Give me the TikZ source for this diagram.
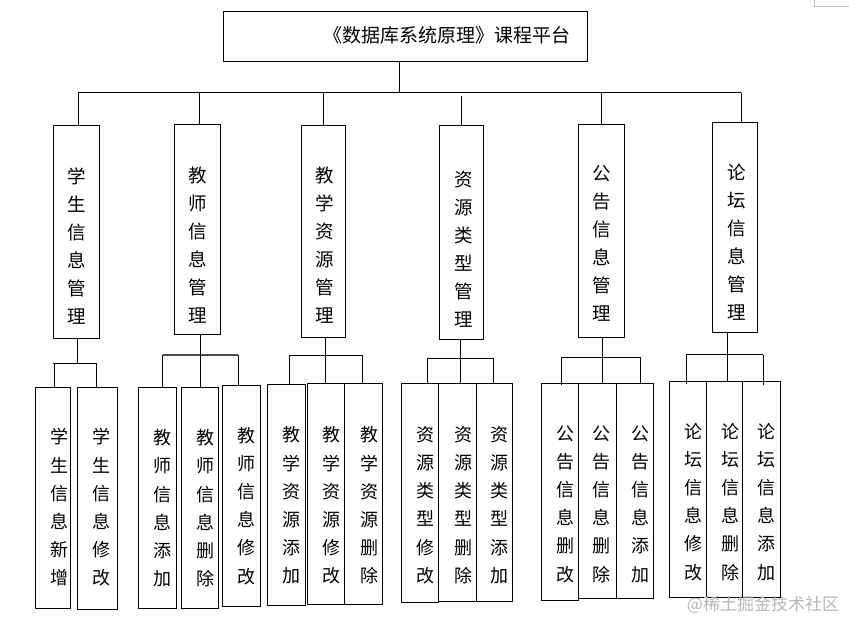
\documentclass[tikz,border=0pt]{standalone}
\usepackage{fontspec}
\setmainfont{Noto Sans CJK SC}
\usetikzlibrary{fit}
\newcommand\mybox[5]{\node[boxst, fit={(#2,#3)(#4,#5)}] (#1) {};}
\newcommand\lvtxt[5]{\node[#1] (#2) at (#3,#4) {#5};}
\begin{document}
\begin{tikzpicture}[x=1pt,y=-1pt,
  boxst/.style={draw, line width=1pt, inner sep=0pt},
  lvtwo/.style={inner sep=0pt, align=center, font=\fontsize{18.5}{28}\selectfont},
  lvthree/.style={inner sep=0pt, align=center, font=\fontsize{18}{28.2}\selectfont},
  conn/.style={line width=1pt},
  titlest/.style={inner sep=0pt, font=\fontsize{19}{22}\selectfont},
  wmark/.style={inner sep=0pt, text=black!28, font=\fontsize{17}{20}\selectfont}]
\useasboundingbox (0,0) rectangle (849,620);
\fill[white] (0,0) rectangle (849,620);
\draw[black!25, line width=0.8pt] (814,0) -- (814,6) -- (849,6);

% root
\mybox{root}{223}{12}{587}{62}
\node[titlest] (title) at (447,35) {《数据库系统原理》课程平台};

% level 2
\mybox{b1}{53.3}{126}{99.3}{338.5}
\mybox{b2}{174.3}{124.3}{220.3}{335}
\mybox{b3}{301.7}{125.3}{345.3}{337.3}
\mybox{b4}{439.3}{126}{483.3}{339.3}
\mybox{b5}{578.3}{125}{624.3}{337.3}
\mybox{b6}{712.3}{122.3}{757.3}{333}
\lvtxt{lvtwo}{t1}{77}{246}{学\\生\\信\\息\\管\\理}
\lvtxt{lvtwo}{t2}{198}{245}{教\\师\\信\\息\\管\\理}
\lvtxt{lvtwo}{t3}{325}{245}{教\\学\\资\\源\\管\\理}
\lvtxt{lvtwo}{t4}{463.3}{249.5}{资\\源\\类\\型\\管\\理}
\lvtxt{lvtwo}{t5}{601.7}{243.5}{公\\告\\信\\息\\管\\理}
\lvtxt{lvtwo}{t6}{736.7}{242}{论\\坛\\信\\息\\管\\理}

% top bar
\coordinate (topL) at (78.3,93);
\coordinate (topR) at (741,93);
\coordinate (topM) at (399,93);
\draw[conn] (topL) -- (topR);
\draw[conn] (root.south -| topM) -- (topM);
\draw[conn] (topL) -- (topL |- b1.north);
\coordinate (d2) at (199.3,93);
\coordinate (d3) at (323.3,93);
\coordinate (d4) at (461.3,96);
\coordinate (d5) at (601.7,93);
\draw[conn] (d2) -- (d2 |- b2.north);
\draw[conn] (d3) -- (d3 |- b3.north);
\draw[conn] (d4) -- (d4 |- b4.north);
\draw[conn] (d5) -- (d5 |- b5.north);
\draw[conn] (topR) -- (topR |- b6.north);

% level 3 boxes
\mybox{a11}{35.7}{387.3}{70.7}{608.3}
\mybox{a12}{77.7}{387.3}{117.3}{609.3}
\mybox{a21}{138.7}{387.3}{176.3}{608.3}
\mybox{a22}{181.7}{387.3}{218.3}{608.3}
\mybox{a23}{222.7}{385.7}{260.3}{606}
\mybox{a31}{267.3}{384.3}{305.7}{605.3}
\mybox{a32}{307.7}{383.3}{344.3}{604.3}
\mybox{a33}{344.3}{383.3}{382.3}{604.3}
\mybox{a41}{401.7}{383.3}{438.7}{602.3}
\mybox{a42}{438.7}{383.3}{476.7}{601}
\mybox{a43}{476.7}{383.3}{512.3}{601}
\mybox{a51}{541.7}{383.3}{578.7}{600}
\mybox{a52}{578.7}{383.3}{616.7}{598.7}
\mybox{a53}{616.7}{383.3}{653.3}{598}
\mybox{a61}{669.3}{381.3}{706.7}{597.3}
\mybox{a62}{706.7}{381.3}{742.7}{597.3}
\mybox{a63}{742.7}{381.3}{780.7}{597.3}

% level 3 texts
\lvtxt{lvthree}{s11}{59.3}{507.5}{学\\生\\信\\息\\新\\增}
\lvtxt{lvthree}{s12}{101}{507.5}{学\\生\\信\\息\\修\\改}
\lvtxt{lvthree}{s21}{162.3}{508.3}{教\\师\\信\\息\\添\\加}
\lvtxt{lvthree}{s22}{205}{508.3}{教\\师\\信\\息\\删\\除}
\lvtxt{lvthree}{s23}{246}{505.8}{教\\师\\信\\息\\修\\改}
\lvtxt{lvthree}{s31}{291}{505.5}{教\\学\\资\\源\\添\\加}
\lvtxt{lvthree}{s32}{331}{505.5}{教\\学\\资\\源\\修\\改}
\lvtxt{lvthree}{s33}{369.3}{505.5}{教\\学\\资\\源\\删\\除}
\lvtxt{lvthree}{s41}{425}{505}{资\\源\\类\\型\\修\\改}
\lvtxt{lvthree}{s42}{463.3}{505}{资\\源\\类\\型\\删\\除}
\lvtxt{lvthree}{s43}{499}{505}{资\\源\\类\\型\\添\\加}
\lvtxt{lvthree}{s51}{565}{504}{公\\告\\信\\息\\删\\改}
\lvtxt{lvthree}{s52}{601.7}{504}{公\\告\\信\\息\\删\\除}
\lvtxt{lvthree}{s53}{640}{504}{公\\告\\信\\息\\添\\加}
\lvtxt{lvthree}{s61}{693.3}{501.7}{论\\坛\\信\\息\\修\\改}
\lvtxt{lvthree}{s62}{730}{501.7}{论\\坛\\信\\息\\删\\除}
\lvtxt{lvthree}{s63}{766.7}{501.7}{论\\坛\\信\\息\\添\\加}

% group 1
\coordinate (m1) at (77.3,363.3);
\coordinate (l1) at (54.3,363.3);
\coordinate (r1) at (96.7,363.3);
\draw[conn] (b1.south -| m1) -- (m1);
\draw[conn] ([xshift=-1.6pt]l1) -- (r1);
\draw[conn] (l1) -- (l1 |- a11.north);
\draw[conn] (r1) -- (r1 |- a12.north);

% group 2
\coordinate (m2) at (200.3,355);
\coordinate (l2) at (162.5,355);
\coordinate (r2) at (238,355);
\draw[conn] (b2.south -| m2) -- (m2);
\draw[line width=1.5pt, black!70] (l2) -- (r2);
\draw[conn] (l2) -- (l2 |- a21.north);
\draw[conn] (m2) -- (m2 |- a22.north);
\draw[conn] (r2) -- (r2 |- a23.north);

% group 3
\coordinate (m3) at (325.7,355.3);
\coordinate (l3) at (289.3,355.3);
\coordinate (r3) at (362.8,355.3);
\draw[conn] (b3.south -| m3) -- (m3);
\draw[conn] (l3) -- (r3);
\draw[conn] (l3) -- (l3 |- a31.north);
\draw[conn] (m3) -- (m3 |- a32.north);
\draw[conn] (r3) -- (r3 |- a33.north);

% group 4
\coordinate (m4) at (460.7,358.3);
\coordinate (l4) at (427.3,358.3);
\coordinate (r4) at (493.3,358.3);
\draw[conn] (b4.south -| m4) -- (m4);
\draw[conn] (l4) -- (r4);
\draw[conn] (l4) -- (l4 |- a41.north);
\draw[conn] (m4) -- (m4 |- a42.north);
\draw[conn] (r4) -- (r4 |- a43.north);

% group 5
\coordinate (m5) at (602.3,357.3);
\coordinate (l5) at (561.7,357.3);
\coordinate (r5) at (640.5,357.3);
\draw[conn] (b5.south -| m5) -- (m5);
\draw[conn] (l5) -- (r5);
\draw[conn] (l5) -- ([yshift=-2.5pt]l5 |- a51.north);
\draw[conn] (m5) -- (m5 |- a52.north);
\draw[conn] (r5) -- (r5 |- a53.north);

% group 6
\coordinate (m6) at (727.3,355);
\coordinate (l6) at (686,355);
\coordinate (r6) at (763.3,355);
\draw[conn] (b6.south -| m6) -- (m6);
\draw[conn] (l6) -- (r6);
\draw[conn] (l6) -- ([yshift=-3pt]l6 |- a61.north);
\draw[conn] (m6) -- (m6 |- a62.north);
\draw[conn] (r6) -- ([yshift=-4pt]r6 |- a63.north);

% watermark
\node[wmark] (wm) at (763,605) {@稀土掘金技术社区};
\end{tikzpicture}
\end{document}
